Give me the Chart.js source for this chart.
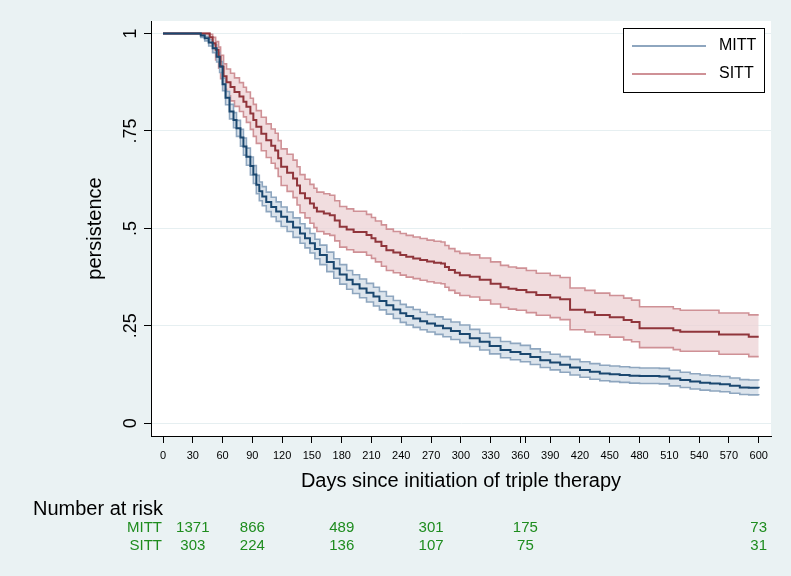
<!DOCTYPE html>
<html><head><meta charset="utf-8">
<script src="https://cdn.jsdelivr.net/npm/chart.js@4/dist/chart.umd.min.js"></script>
<style>html,body{margin:0;padding:0;background:#eaf2f3;}canvas{display:block;}</style>
</head><body>
<canvas id="c" width="791" height="576"></canvas>
<script>
// ---------- data ----------
const xTickValues = [0,30,60,90,120,150,180,210,240,270,300,330,360,390,420,450,480,510,540,570,600];
const extraTickValues = [365];
const yTickValues = [0,0.25,0.5,0.75,1];

const mittDays = [0,34,38,42,46,50,54,57,60,63,67,71,74,78,81,84,88,91,94,97,100,104,109,114,119,125,131,138,143,148,153,158,165,172,178,185,191,198,205,212,218,225,232,239,245,252,259,266,274,282,290,299,309,319,329,340,350,360,370,380,390,400,410,420,430,440,450,460,470,480,490,500,510,521,531,541,551,561,571,581,590,600];
const mittSurv = [1,1,0.995,0.988,0.977,0.962,0.94,0.915,0.87,0.835,0.80,0.778,0.757,0.733,0.71,0.684,0.66,0.638,0.612,0.595,0.582,0.568,0.555,0.543,0.53,0.517,0.502,0.487,0.475,0.462,0.447,0.432,0.414,0.397,0.382,0.368,0.357,0.346,0.335,0.325,0.314,0.303,0.292,0.282,0.275,0.269,0.262,0.256,0.25,0.244,0.237,0.229,0.218,0.209,0.198,0.188,0.183,0.178,0.17,0.162,0.156,0.15,0.143,0.137,0.132,0.128,0.126,0.124,0.122,0.121,0.121,0.12,0.115,0.111,0.107,0.104,0.102,0.1,0.096,0.092,0.091,0.09];
const mittUpper = [1,1,0.998,0.993,0.984,0.971,0.951,0.928,0.885,0.851,0.818,0.797,0.777,0.754,0.732,0.706,0.683,0.661,0.636,0.619,0.607,0.593,0.580,0.568,0.555,0.542,0.527,0.512,0.500,0.487,0.472,0.457,0.439,0.422,0.407,0.392,0.381,0.370,0.359,0.349,0.338,0.326,0.315,0.305,0.298,0.292,0.285,0.279,0.273,0.267,0.260,0.252,0.241,0.231,0.220,0.210,0.205,0.200,0.191,0.183,0.177,0.171,0.164,0.158,0.153,0.149,0.147,0.145,0.143,0.142,0.142,0.141,0.136,0.131,0.127,0.124,0.122,0.120,0.116,0.112,0.111,0.110];
const mittLower = [1,1,0.990,0.981,0.968,0.951,0.927,0.900,0.853,0.817,0.781,0.758,0.736,0.711,0.688,0.662,0.637,0.615,0.589,0.571,0.558,0.543,0.530,0.518,0.505,0.492,0.477,0.462,0.450,0.437,0.422,0.407,0.389,0.372,0.357,0.344,0.333,0.322,0.311,0.301,0.291,0.280,0.269,0.259,0.252,0.246,0.240,0.234,0.228,0.222,0.215,0.207,0.197,0.188,0.178,0.168,0.163,0.158,0.151,0.143,0.137,0.131,0.124,0.118,0.113,0.109,0.107,0.105,0.103,0.102,0.102,0.101,0.096,0.092,0.088,0.085,0.083,0.081,0.077,0.074,0.073,0.072];

const sittDays = [0,44,47,50,53,56,58,61,64,68,72,77,81,84,88,91,94,99,104,109,113,116,119,125,131,135,138,143,148,152,155,162,168,173,178,185,192,205,210,214,220,225,232,239,245,252,259,266,273,280,284,288,294,299,309,319,330,340,348,356,366,376,390,400,410,425,435,450,464,472,480,514,521,560,590,600];
const sittSurv = [1,1,0.99,0.975,0.958,0.94,0.915,0.89,0.875,0.863,0.85,0.838,0.825,0.812,0.795,0.778,0.761,0.743,0.726,0.712,0.70,0.68,0.658,0.643,0.628,0.61,0.59,0.577,0.564,0.553,0.543,0.538,0.534,0.52,0.504,0.497,0.491,0.483,0.475,0.466,0.455,0.444,0.438,0.432,0.427,0.423,0.419,0.415,0.412,0.41,0.401,0.393,0.386,0.38,0.376,0.368,0.358,0.349,0.345,0.342,0.336,0.329,0.323,0.318,0.291,0.285,0.278,0.272,0.265,0.26,0.244,0.239,0.235,0.228,0.222,0.222];
const sittUpper = [1,1,0.998,0.99,0.979,0.965,0.944,0.922,0.909,0.898,0.886,0.874,0.862,0.850,0.834,0.818,0.802,0.785,0.768,0.755,0.744,0.725,0.704,0.690,0.675,0.658,0.638,0.626,0.613,0.603,0.593,0.589,0.585,0.571,0.556,0.550,0.544,0.536,0.528,0.519,0.509,0.498,0.492,0.487,0.482,0.478,0.474,0.470,0.467,0.465,0.456,0.448,0.441,0.436,0.432,0.424,0.414,0.405,0.401,0.398,0.392,0.385,0.379,0.374,0.347,0.341,0.334,0.328,0.321,0.316,0.299,0.294,0.290,0.283,0.278,0.278];
const sittLower = [1,1,0.975,0.952,0.932,0.911,0.884,0.857,0.840,0.827,0.813,0.800,0.786,0.772,0.754,0.736,0.718,0.699,0.682,0.667,0.654,0.633,0.610,0.595,0.579,0.560,0.540,0.527,0.513,0.502,0.492,0.486,0.482,0.468,0.452,0.445,0.439,0.431,0.423,0.414,0.403,0.392,0.386,0.380,0.375,0.371,0.367,0.363,0.360,0.358,0.349,0.341,0.334,0.328,0.324,0.316,0.306,0.297,0.293,0.290,0.284,0.277,0.271,0.266,0.240,0.234,0.227,0.221,0.214,0.209,0.194,0.189,0.185,0.177,0.171,0.171];

const riskTitle = 'Number at risk';
const riskGroups = ['MITT','SITT'];
const riskDays = [30,90,180,270,365,600];
const mittRisk = [1371,866,489,301,175,73];
const sittRisk = [303,224,136,107,75,31];

// ---------- styles ----------
const FONT = "'Liberation Sans', Arial, Helvetica, sans-serif";
const NARROW = "'Liberation Sans Narrow', 'Liberation Sans', Arial, sans-serif";
const BG = '#eaf2f3';
const NAVY = '#1a476f', MAROON = '#90353b';
const BLUE_CI = '#8ea6bf', RED_CI = '#cf9196';
const BLUE_FILL = 'rgba(214,223,233,0.85)', RED_FILL = 'rgba(236,210,212,0.75)';
const GREEN = '#1e8c1e';

const pts = (xs, ys) => xs.map((x, i) => ({x, y: ys[i]}));

const bgPlugin = {
  id: 'bg',
  beforeDraw(chart) {
    const {ctx, chartArea: a} = chart;
    ctx.save();
    ctx.fillStyle = BG;
    ctx.fillRect(0, 0, chart.width, chart.height);
    ctx.fillStyle = '#ffffff';
    ctx.fillRect(a.left, a.top, a.right - a.left, a.bottom - a.top);
    ctx.restore();
  }
};

const legendPlugin = {
  id: 'kmLegend',
  afterDraw(chart) {
    const {ctx} = chart;
    const items = [
      {label: chart.data.datasets[2].label, color: chart.data.datasets[2].borderColor},
      {label: chart.data.datasets[4].label, color: chart.data.datasets[4].borderColor}
    ];
    ctx.save();
    ctx.fillStyle = '#fff';
    ctx.fillRect(623.5, 28.5, 141, 64);
    ctx.strokeStyle = '#000';
    ctx.lineWidth = 1;
    ctx.strokeRect(623.5, 28.5, 141, 64);
    ctx.font = '16px ' + FONT;
    ctx.textBaseline = 'middle';
    ctx.textAlign = 'left';
    items.forEach((it, i) => {
      const y = 46 + i * 28;
      ctx.strokeStyle = it.color;
      ctx.lineWidth = 1.8;
      ctx.beginPath(); ctx.moveTo(632, y); ctx.lineTo(706, y); ctx.stroke();
      ctx.fillStyle = '#000';
      ctx.fillText(it.label, 719, y);
    });
    ctx.restore();
  }
};

const riskPlugin = {
  id: 'riskTable',
  afterDraw(chart) {
    const {ctx} = chart;
    const xs = chart.scales.x;
    ctx.save();
    ctx.textBaseline = 'middle';
    ctx.fillStyle = '#000';
    ctx.font = '20px ' + FONT;
    ctx.textAlign = 'left';
    ctx.fillText(riskTitle, 33, 509);
    ctx.fillStyle = GREEN;
    ctx.font = '15px ' + FONT;
    const rows = [mittRisk, sittRisk];
    rows.forEach((row, r) => {
      const y = 528 + r * 18;
      ctx.textAlign = 'right';
      ctx.fillText(riskGroups[r], xs.getPixelForValue(0) - 1, y);
      ctx.textAlign = 'center';
      row.forEach((n, i) => ctx.fillText(String(n), xs.getPixelForValue(riskDays[i]), y));
    });
    ctx.restore();
  }
};

const chart = new Chart(document.getElementById('c'), {
  type: 'line',
  data: {
    datasets: [
      {label: 'MITT', data: pts(mittDays, mittSurv), borderColor: NAVY, borderWidth: 2, stepped: true, pointRadius: 0, fill: false, order: 0},
      {label: 'SITT', data: pts(sittDays, sittSurv), borderColor: MAROON, borderWidth: 2, stepped: true, pointRadius: 0, fill: false, order: 0},
      {label: 'MITT', data: pts(mittDays, mittUpper), borderColor: BLUE_CI, borderWidth: 1.6, stepped: true, pointRadius: 0, fill: false, order: 1},
      {label: 'MITT lower', data: pts(mittDays, mittLower), borderColor: BLUE_CI, borderWidth: 1.6, stepped: true, pointRadius: 0, fill: {target: 2}, backgroundColor: BLUE_FILL, order: 1},
      {label: 'SITT', data: pts(sittDays, sittUpper), borderColor: RED_CI, borderWidth: 1.6, stepped: true, pointRadius: 0, fill: false, order: 2},
      {label: 'SITT lower', data: pts(sittDays, sittLower), borderColor: RED_CI, borderWidth: 1.6, stepped: true, pointRadius: 0, fill: {target: 4}, backgroundColor: RED_FILL, order: 2}
    ]
  },
  options: {
    responsive: false,
    animation: false,
    devicePixelRatio: 1,
    layout: {padding: {left: 0, top: 21, right: 20, bottom: 75}},
    plugins: {legend: {display: false}, tooltip: {enabled: false}},
    scales: {
      x: {
        type: 'linear',
        min: -12.1, max: 612.4,
        afterFit(s) { s.height = 65; },
        afterBuildTicks(s) { s.ticks = xTickValues.concat(extraTickValues).sort((a, b) => a - b).map(v => ({value: v})); },
        ticks: {
          autoSkip: false, maxRotation: 0, minRotation: 0, padding: 6, color: '#000',
          font: {family: NARROW, size: 11},
          callback: v => xTickValues.includes(v) ? String(v) : ''
        },
        grid: {drawOnChartArea: false, drawTicks: true, tickLength: 7, tickColor: '#000', tickWidth: 1},
        border: {display: true, color: '#000', width: 1},
        title: {display: true, text: 'Days since initiation of triple therapy', color: '#000', font: {family: FONT, size: 20}, padding: {top: 0, bottom: 8}}
      },
      y: {
        type: 'linear',
        min: -0.0326, max: 1.032,
        afterFit(s) { s.width = 151; },
        afterBuildTicks(s) { s.ticks = yTickValues.map(v => ({value: v})); },
        ticks: {
          minRotation: 90, maxRotation: 90, crossAlign: 'center', padding: 0, color: '#000',
          font: {family: FONT, size: 18},
          callback: v => v === 0 ? '0' : v === 1 ? '1' : String(v).replace(/^0/, '')
        },
        grid: {color: '#e6eff1', lineWidth: 1, drawTicks: true, tickLength: 7, tickColor: '#000', tickWidth: 1},
        border: {display: true, color: '#000', width: 1},
        title: {display: true, text: 'persistence', color: '#000', font: {family: FONT, size: 20}, padding: {top: 83, bottom: 0}}
      }
    }
  },
  plugins: [bgPlugin, legendPlugin, riskPlugin]
});
</script>
</body></html>
